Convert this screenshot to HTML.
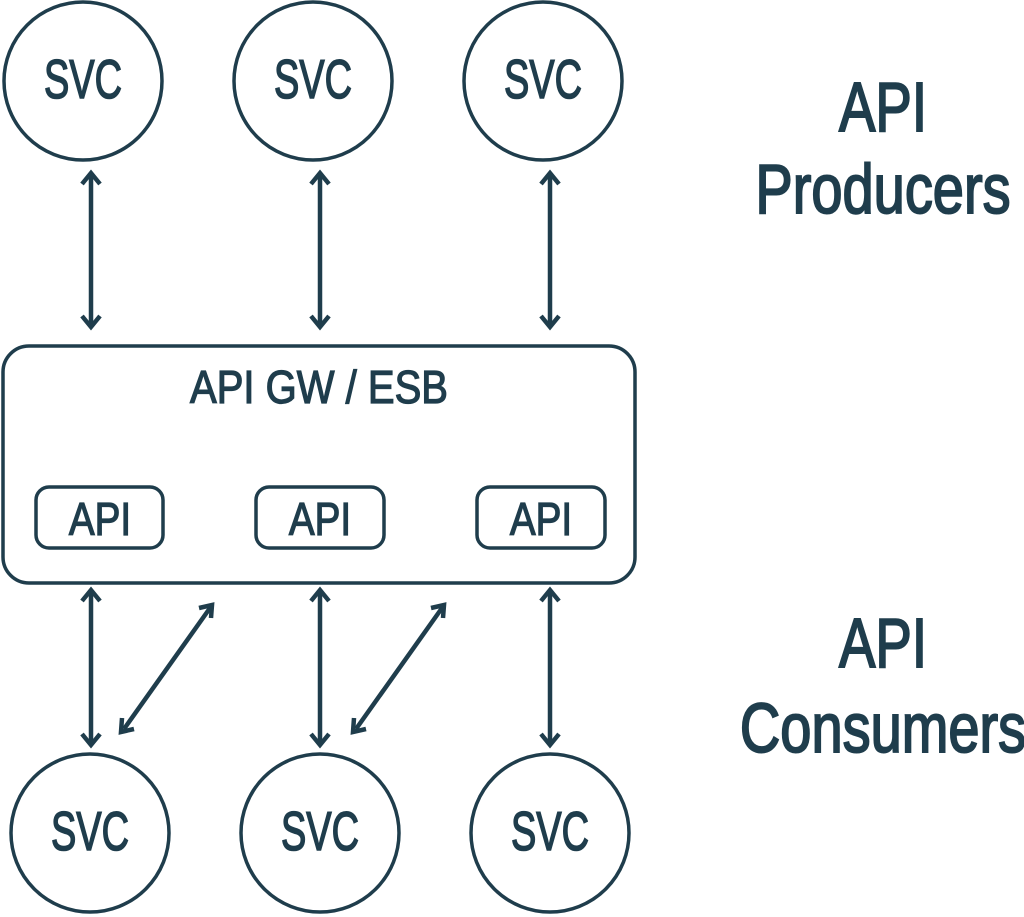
<!DOCTYPE html>
<html><head><meta charset="utf-8"><style>
html,body{margin:0;padding:0;background:#fff;}
svg{display:block}
text{font-family:"Liberation Sans",sans-serif;fill:#1f3d4c;stroke:#1f3d4c;}
</style></head><body>
<svg width="1024" height="917" viewBox="0 0 1024 917">
<g fill="none" stroke="#1f3d4c" stroke-width="3.5">
<circle cx="83" cy="81" r="79"/>
<circle cx="313" cy="81" r="79"/>
<circle cx="543" cy="81" r="79"/>
<circle cx="90" cy="833" r="79"/>
<circle cx="320" cy="833" r="79"/>
<circle cx="550" cy="833" r="79"/>
<rect x="3" y="346" width="632" height="237" rx="26"/>
<rect x="36" y="487" width="127" height="61" rx="13"/>
<rect x="256" y="487" width="128" height="61" rx="13"/>
<rect x="477" y="487" width="128" height="61" rx="13"/>
</g>
<g fill="none" stroke="#1f3d4c" stroke-width="4.5" stroke-linecap="butt" stroke-linejoin="miter">
<line x1="91" y1="175" x2="91" y2="325"/><polyline points="82,184 91,173 100,184"/><polyline points="82,316 91,327 100,316"/>
<line x1="320" y1="175" x2="320" y2="325"/><polyline points="311,184 320,173 329,184"/><polyline points="311,316 320,327 329,316"/>
<line x1="550" y1="175" x2="550" y2="325"/><polyline points="541,184 550,173 559,184"/><polyline points="541,316 550,327 559,316"/>
<line x1="91" y1="592" x2="91" y2="743"/><polyline points="82,601 91,590 100,601"/><polyline points="82,734 91,745 100,734"/>
<line x1="320" y1="592" x2="320" y2="743"/><polyline points="311,601 320,590 329,601"/><polyline points="311,734 320,745 329,734"/>
<line x1="550" y1="592" x2="550" y2="743"/><polyline points="541,601 550,590 559,601"/><polyline points="541,734 550,745 559,734"/>
<line x1="210" y1="608" x2="124" y2="729"/><polyline points="199,608 212,605 211,618"/><polyline points="122,718 121,732 134,729"/>
<line x1="442" y1="608" x2="356" y2="729"/><polyline points="431,608 444,605 443,618"/><polyline points="354,718 353,732 366,729"/>
</g>
<g font-size="55" text-anchor="middle" stroke-width="1.6">
<text transform="translate(83,98) scale(0.69,1)">SVC</text>
<text transform="translate(313,98) scale(0.69,1)">SVC</text>
<text transform="translate(543,98) scale(0.69,1)">SVC</text>
<text transform="translate(90,850) scale(0.69,1)">SVC</text>
<text transform="translate(320,850) scale(0.69,1)">SVC</text>
<text transform="translate(550,850) scale(0.69,1)">SVC</text>
</g>
<g font-size="46" text-anchor="middle" stroke-width="1.3">
<text transform="translate(100,535) scale(0.84,1)">API</text>
<text transform="translate(320,535) scale(0.84,1)">API</text>
<text transform="translate(541,535) scale(0.84,1)">API</text>
<text transform="translate(319,403) scale(0.87,1)">API GW / ESB</text>
</g>
<g font-size="70" text-anchor="middle" stroke-width="2">
<text transform="translate(883,131) scale(0.78,1)">API</text>
<text transform="translate(883,213) scale(0.8,1)">Producers</text>
<text transform="translate(883,667) scale(0.78,1)">API</text>
<text transform="translate(883,752) scale(0.8,1)">Consumers</text>
</g>
</svg>
</body></html>
